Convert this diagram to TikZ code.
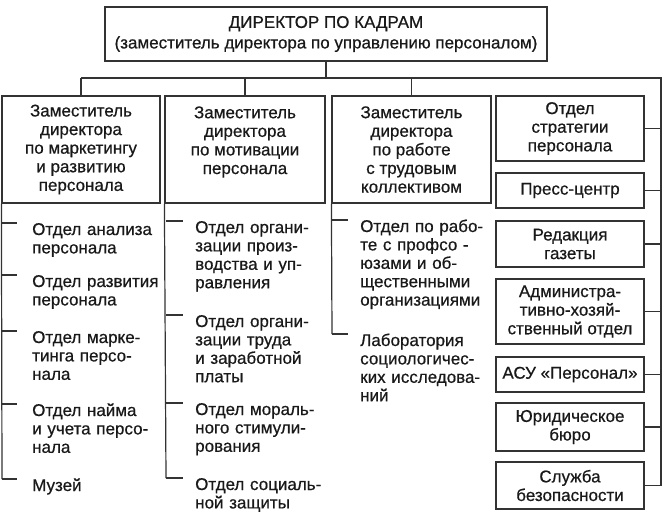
\documentclass[tikz,border=0pt]{standalone}
\usepackage{fontspec}
\setmainfont{Liberation Sans}[FakeBold=0.6]
\begin{document}
\begin{tikzpicture}[x=1pt,y=-1pt,
  ln/.style={draw=black!80, line width=1.2pt},
  box/.style={ln, fill=white, inner sep=0pt, align=center, text=black!90,
    font=\fontsize{17}{18.6}\selectfont},
  item/.style={inner sep=0pt, anchor=base west, text width=150pt, align=left, text=black!90,
    font=\fontsize{17}{18.4}\selectfont}
]
\useasboundingbox (0,0) rectangle (663,511);
% top box
\node[box, minimum width=442pt, minimum height=54pt, font=\fontsize{17}{20.5}\selectfont] (top) at (326,34)
  {ДИРЕКТОР ПО КАДРАМ\\(заместитель директора по управлению персоналом)};
% column boxes
\node[box, minimum width=158pt, minimum height=107pt] (c1) at (81,149.5)
  {Заместитель\\директора\\по маркетингу\\и развитию\\персонала};
\node[box, minimum width=160pt, minimum height=107pt] (c2) at (245,149.5)
  {Заместитель\\директора\\по мотивации\\персонала\\\mbox{}};
\node[box, minimum width=159pt, minimum height=107pt] (c3) at (411.5,149.5)
  {Заместитель\\директора\\по работе\\с трудовым\\коллективом};
% right column
\node[box, minimum width=148pt, minimum height=65pt] (r1) at (570,128.5) {Отдел\\стратегии\\персонала};
\node[box, minimum width=148pt, minimum height=35pt] (r2) at (570,190.5) {Пресс-центр};
\node[box, minimum width=148pt, minimum height=46pt] (r3) at (570,244) {Редакция\\газеты};
\node[box, minimum width=148pt, minimum height=65pt] (r4) at (570,311.5) {Администра-\\тивно-хозяй-\\ственный отдел};
\node[box, minimum width=148pt, minimum height=35pt] (r5) at (570,374.5) {АСУ «Персонал»};
\node[box, minimum width=148pt, minimum height=48pt] (r6) at (570,427) {Юридическое\\бюро};
\node[box, minimum width=148pt, minimum height=47pt] (r7) at (570,485.5) {Служба\\безопасности};
% bus
\coordinate (busT) at (326,78);
\coordinate (busR) at (661,78);
\coordinate (trunkEnd) at (661,485.5);
\draw[ln] (top.south) -- (busT);
\draw[ln] (c1.north |- busT) -- (busR) -- (trunkEnd);
\foreach \c in {c1,c2,c3}{
  \draw[ln] (\c.north |- busT) -- (\c.north);
}
\foreach \r in {r1,r2,r3,r4,r5,r6,r7}{
  \draw[ln] (\r.east) -- (\r.east -| busR);
}
% column 1 items
\coordinate (k1e) at (2,479);
\draw[ln] (c1.south west) -- (k1e);
\node[item] (a1) at (32,235) {Отдел анализа\\персонала};
\node[item] (a2) at (32,287) {Отдел развития\\персонала};
\node[item] (a3) at (32,343) {Отдел марке-\\тинга персо-\\нала};
\node[item] (a4) at (32,416) {Отдел найма\\и учета персо-\\нала};
\node[item] (a5) at (32,491) {Музей};
\foreach \y in {223,275,331,404,479}{
  \draw[ln] (2,\y) -- (17,\y);
}
% column 2 items
\coordinate (k2e) at (166,478);
\draw[ln] (c2.south west) -- (k2e);
\node[item] (b1) at (195,233) {Отдел органи-\\зации произ-\\водства и уп-\\равления};
\node[item] (b2) at (195,327) {Отдел органи-\\зации труда\\и заработной\\платы};
\node[item] (b3) at (195,415) {Отдел мораль-\\ного стимули-\\рования};
\node[item] (b4) at (195,490) {Отдел социаль-\\ной защиты};
\foreach \y in {221,315,403,478}{
  \draw[ln] (166,\y) -- (183,\y);
}
% column 3 items
\coordinate (k3e) at (332,334);
\draw[ln] (c3.south west) -- (k3e);
\node[item] (d1) at (360,232) {Отдел по рабо-\\те с профсо -\\юзами и об-\\щественными\\организациями};
\node[item] (d2) at (360,346) {Лаборатория\\социологичес-\\ких исследова-\\ний};
\foreach \y in {220,334}{
  \draw[ln] (332,\y) -- (348,\y);
}
\end{tikzpicture}
\end{document}
